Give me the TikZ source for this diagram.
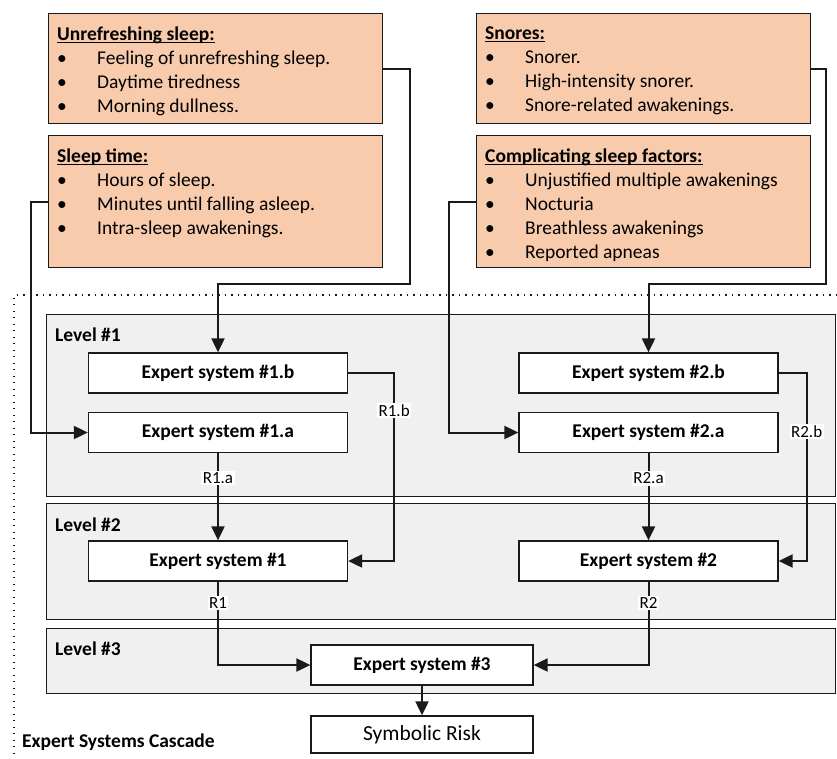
\documentclass[tikz,border=0pt]{standalone}
\usepackage{fontspec}
\setmainfont{Carlito}
\usetikzlibrary{arrows.meta}
\definecolor{peach}{HTML}{F8CBAD}
\definecolor{panel}{HTML}{F0F0F0}
\definecolor{ink}{HTML}{1A1A1A}

\newcommand\itm[1]{\makebox[40pt][l]{\textbullet}#1}
\newcommand\undl[1]{\setbox0\hbox{#1}\rlap{\rule[-2.5pt]{\wd0}{1.1pt}}\box0}

\tikzset{
  factor/.style={draw=ink, fill=peach, line width=1.3pt, minimum width=334pt, anchor=north west, inner sep=0pt},
  factortext/.style={anchor=north west, align=left, inner xsep=9pt, inner ysep=13.5pt, font=\fontsize{19.5}{24}\selectfont},
  level/.style={draw=ink, fill=panel, line width=1.3pt, minimum width=789pt, anchor=north west, inner sep=0pt},
  leveltitle/.style={anchor=west, inner sep=0pt, font=\fontsize{19.5}{24}\selectfont\bfseries},
  esys/.style={draw=ink, fill=white, line width=1.3pt, minimum width=259pt, minimum height=40pt, inner sep=0pt, font=\fontsize{19.5}{24}\selectfont\bfseries},
  conn/.style={draw=ink, line width=2pt, -{Triangle[length=14pt,width=13pt]}},
  rlabel/.style={fill=white, inner sep=1.5pt, font=\fontsize{17}{20}\selectfont},
}

\begin{document}
\begin{tikzpicture}[x=1pt, y=-1pt]
    \useasboundingbox (0,0) rectangle (837,758);

    % Input factor boxes
    \node[factor, minimum height=110pt] (unref) at (48,13) {};
    \node[factortext] at (unref.north west) {\textbf{\undl{Unrefreshing sleep:}}\\ \itm{Feeling of unrefreshing sleep.}\\ \itm{Daytime tiredness}\\ \itm{Morning dullness.}};
    \node[factor, minimum height=132pt] (sleep) at (48,135) {};
    \node[factortext] at (sleep.north west) {\textbf{\undl{Sleep time:}}\\ \itm{Hours of sleep.}\\ \itm{Minutes until falling asleep.}\\ \itm{Intra-sleep awakenings.}};
    \node[factor, minimum height=110pt] (snores) at (476,13) {};
    \node[factortext] at (snores.north west) {\textbf{\undl{Snores:}}\\ \itm{Snorer.}\\ \itm{High-intensity snorer.}\\ \itm{Snore-related awakenings.}};
    \node[factor, minimum height=132pt] (comp) at (476,135) {};
    \node[factortext] at (comp.north west) {\textbf{\undl{Complicating sleep factors:}}\\ \itm{Unjustified multiple awakenings}\\ \itm{Nocturia}\\ \itm{Breathless awakenings}\\ \itm{Reported apneas}};

    % Dotted frame of the cascade
    \draw[ink, line width=1.2pt, dash pattern=on 1.2pt off 5.3pt] (837,295) -- (14,295) -- (14,758);

    % Levels
    \node[level, minimum height=182pt] (lvl1) at (46,314) {};
    \node[level, minimum height=116pt] (lvl2) at (46,503) {};
    \node[level, minimum height=65pt] (lvl3) at (46,628) {};
    \node[leveltitle] at ([shift={(9,21)}]lvl1.north west) {Level \#1};
    \node[leveltitle] at ([shift={(9,22)}]lvl2.north west) {Level \#2};
    \node[leveltitle] at ([shift={(9,21)}]lvl3.north west) {Level \#3};
    \node[leveltitle] at (22,742) {Expert Systems Cascade};

    % Expert systems
    \node[esys] (es1b) at (218,373) {Expert system \#1.b};
    \node[esys] (es1a) at (218,432.5) {Expert system \#1.a};
    \node[esys] (es2b) at (648.5,373) {Expert system \#2.b};
    \node[esys] (es2a) at (648.5,432.5) {Expert system \#2.a};
    \node[esys] (es1) at (218,561) {Expert system \#1};
    \node[esys] (es2) at (648.5,561) {Expert system \#2};
    \node[esys, minimum width=222pt] (es3) at (422,665) {Expert system \#3};
    \node[esys, minimum width=222pt, minimum height=37pt, font=\fontsize{21.5}{24}\selectfont] (risk) at (422,734.5) {Symbolic Risk};

    % Connectors
    \coordinate (bendl) at (410,284);
    \coordinate (bendr) at (826,284);
    \draw[conn] (unref.east) -| (bendl) -| (es1b.north);
    \draw[conn] (sleep.west) -- ++(-17,0) |- (es1a.west);
    \draw[conn] (snores.east) -| (bendr) -| (es2b.north);
    \draw[conn] (comp.west) -- ++(-27,0) |- (es2a.west);
    \draw[conn] (es1b.east) -- ++(46,0) |- node[rlabel, pos=0.1] {R1.b} (es1.east);
    \draw[conn] (es2b.east) -- ++(28,0) |- node[rlabel, pos=0.155] {R2.b} (es2.east);
    \draw[conn] (es1a.south) -- node[rlabel, pos=0.29] {R1.a} (es1.north);
    \draw[conn] (es2a.south) -- node[rlabel, pos=0.29] {R2.a} (es2.north);
    \draw[conn] (es1.south) |- node[rlabel, pos=0.13] {R1} (es3.west);
    \draw[conn] (es2.south) |- node[rlabel, pos=0.13] {R2} (es3.east);
    \draw[conn] (es3.south) -- (risk.north);
\end{tikzpicture}
\end{document}
